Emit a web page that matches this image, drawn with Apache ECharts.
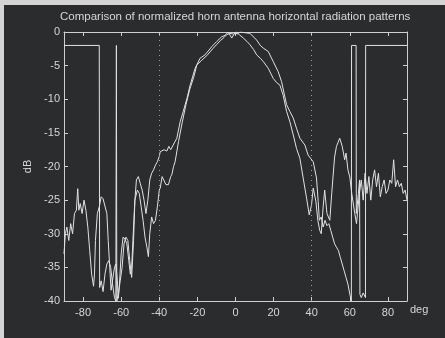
<!DOCTYPE html>
<html>
<head>
<meta charset="utf-8">
<script src="https://cdn.jsdelivr.net/npm/echarts@6/dist/echarts.min.js"></script>
<style>
  body { margin: 0; background: #d4d4d4; width: 445px; height: 338px; overflow: hidden; }
  #charts { position: absolute; left: 4px; top: 5px; width: 441px; height: 333px; background: #2a2c2e; }
</style>
</head>
<body>
<div id="charts"></div>
<script>
/* chart data: [deg, dB] */
let chartTitle = "Comparison of normalized horn antenna horizontal radiation patterns";
let degTicks = [-80, -60, -40, -20, 0, 20, 40, 60, 80];
let degRange = [-90, 90];
let dBRange = [-40, 0];
let guideDeg = [-40, 40]; //dotted guides

let patternA = [
  [-90,-33],[-89.3,-30],[-88.5,-29],[-87.5,-31],[-86.5,-28.5],[-85.5,-30],[-84.5,-27],[-83.5,-26.5],
  [-82.8,-23.3],[-82.2,-26.5],[-81.5,-25.5],[-80.5,-27],[-79.5,-25],[-78.5,-26.5],[-77.5,-29],[-76.5,-32.5],
  [-75.5,-36],[-74.5,-37.8],[-74,-36],[-73.5,-31],[-72.5,-27],[-71.5,-26],[-70.5,-24.5],[-69.5,-24.8],
  [-68.5,-25],[-67.5,-27],[-66.8,-31],[-66,-35],[-65.3,-38.4],[-64.5,-38.5],[-63.5,-35],[-62.8,-34.5],
  [-62,-37],[-61.5,-39.6],[-61,-38],[-60,-33],[-59,-30.5],[-58,-30.8],[-57,-31.5],[-56,-34],[-55.2,-36],
  [-54.5,-35],[-53.5,-29],[-52.8,-25],[-51.5,-23.5],[-50.5,-24],[-49.5,-26],[-48.5,-28],[-47.5,-30.5],
  [-46.5,-32],[-45.7,-33.4],[-45,-30],[-44,-27.5],[-43,-28.5],[-42,-28],[-41,-26],[-40,-23.5],[-39.5,-23.2],
  [-38.5,-21.5],[-37.8,-21.7],[-36.5,-22.7],[-35.2,-22.7],[-34,-21.5],[-33.4,-21.2],[-32.5,-20],[-31.7,-19.3],
  [-29.9,-16.3],[-28,-13.5],[-26,-10.8],[-24,-8.5],[-22,-6.8],[-20.3,-4.9],[-17.7,-4.2],[-15,-3.5],
  [-12,-2.5],[-10,-1.9],[-8,-1.3],[-6,-0.8],[-4.6,-0.4],[-3,-0.2],[-1,-0.3],[0.5,0],[2,-0.4],[4.1,-0.9],
  [6,-1.4],[7.6,-1.9],[9.5,-2.6],[11.1,-3.4],[13,-3.9],[14.6,-4.4],[17.2,-5.4],[19.8,-6.9],[21.5,-7.5],
  [23.3,-7.9],[25,-9.4],[26.8,-11.8],[28.5,-13.3],[30.3,-15.3],[32,-17.3],[33.8,-18.8],[35.5,-21.7],
  [37.3,-24.7],[38.7,-27.2],[39.9,-25.7],[40.8,-23.2],[42.2,-25.2],[43.2,-28],[44.2,-29.5],[45,-30],
  [46,-26],[46.8,-23.5],[48,-27],[49.5,-28],[50.5,-24],[52,-18.6],[53,-17],[54.7,-15.8],[56,-17],
  [57.3,-19],[58,-18],[59,-20.5],[60,-21.6],[61,-24],[62.6,-27],[63.5,-28.5],[64,-27],[65,-24],[66,-22],
  [67,-25],[68,-21],[69,-24],[70,-21.5],[71,-25],[72,-22],[73,-20.5],[74,-23],[75,-21],[76,-24.5],
  [77,-23],[78,-22],[79,-24],[80,-23.5],[81,-22],[82,-22.5],[83,-19],[84,-23],[85,-22],[86,-23],
  [87,-22.5],[88,-24],[89,-23.5],[90,-25]
];

let patternB = [
  [-90,-2],[-71.5,-2],[-71.3,-38],[-70.5,-37],[-69.5,-38.6],[-68.5,-36],[-67.5,-34.5],[-66.5,-34],
  [-65.5,-35],[-64.5,-37.5],[-63.5,-39.5],[-62.8,-40],[-62.5,-2],[-62.3,-40],[-61.5,-39],[-60.5,-37],
  [-59.5,-35],[-58.5,-31.5],[-57.5,-30.5],[-56.5,-31],[-55.5,-34],[-54.5,-36.5],[-53.5,-31],[-52.8,-25],
  [-52,-22],[-51,-21.5],[-50,-22.5],[-49,-23.5],[-48,-25],[-47,-27],[-46,-25],[-45,-22],[-44,-21],
  [-43,-20.5],[-42,-19.8],[-41,-19.3],[-40,-18.5],[-39.5,-17.8],[-38.5,-18],[-37.5,-17.5],[-36,-17.7],
  [-35,-17],[-34,-17.5],[-32.7,-16.8],[-30.8,-15.8],[-29,-13.3],[-27.4,-11.8],[-25.5,-9.9],[-23.8,-7.9],
  [-21.2,-5.4],[-18.6,-3.9],[-16,-3.4],[-12.5,-2.2],[-9.8,-1.4],[-7.2,-0.7],[-5.5,-0.5],[-3.8,0],
  [-2,-0.9],[-0.3,-0.1],[1,-0.3],[2.4,0],[5,-0.1],[7.6,-0.2],[9,-0.6],[11.1,-1.2],[13,-2],[14.6,-2.4],
  [17.2,-2.9],[19.8,-4.4],[22.4,-5.9],[24.2,-7.4],[26.8,-10.8],[28.5,-11.8],[30.3,-12.8],[32,-14.3],
  [33.8,-15.8],[36.4,-16.8],[38.1,-18.3],[40.8,-19.3],[42.5,-21.7],[43.4,-25.2],[44,-28],[45,-27.5],
  [46,-29],[47,-28],[48,-28.8],[49,-28.5],[50,-29.5],[51,-30.5],[52,-31.5],[53,-32],[54,-32.5],
  [55,-33.5],[56,-34.5],[57,-35.5],[58,-36.5],[59,-37.5],[60,-39],[60.8,-40],[60.9,-2],[63.3,-2],
  [63.4,-27],[64.5,-24],[65.1,-22],[65.3,-39],[66,-39.5],[67,-38.8],[68.2,-39.5],[68.3,-2],[90,-2]
];

/* styles */
let textColor = "#d6d6d6";
let boxColor = "#cfcfcf";
let lineColor = "#e2e2e2";
let font = "Liberation Sans";

function boxAxis(pos, isX) {
  //axis used only for the box edge and inner ticks
  let axis = {
    type: "value",
    position: pos,
    min: isX ? degRange[0] : dBRange[0],
    max: isX ? degRange[1] : dBRange[1],
    axisLine: { show: true, onZero: false, lineStyle: { color: boxColor, width: 1 } },
    axisTick: { show: true, inside: true, length: 4, lineStyle: { color: boxColor } },
    splitLine: { show: false },
    axisLabel: { show: false },
  };
  if (isX) {
    axis.axisTick.customValues = degTicks;
  } else {
    axis.interval = 5;
  }
  return axis;
}

function chartRender() {
  let myChart = echarts.init(document.getElementById("charts"));
  let xMain = boxAxis("bottom", true);
  xMain.axisLabel = { show: true, customValues: degTicks, color: textColor, fontFamily: font, fontSize: 11, margin: 6 };
  xMain.name = "deg";
  xMain.nameLocation = "end";
  xMain.nameGap = 3;
  xMain.nameTextStyle = { color: textColor, fontFamily: font, fontSize: 11, verticalAlign: "top", padding: [3, 0, 0, 0] };

  let yMain = boxAxis("left", false);
  yMain.axisLabel = { show: true, color: textColor, fontFamily: font, fontSize: 11, margin: 4 };
  yMain.name = "dB";
  yMain.nameLocation = "middle";
  yMain.nameGap = 30;
  yMain.nameTextStyle = { color: textColor, fontFamily: font, fontSize: 11 };

  let option = {
    animation: false,
    title: {
      text: chartTitle,
      left: 56,
      top: 6,
      padding: 0,
      textStyle: { color: textColor, fontFamily: font, fontSize: 11.5, fontWeight: "normal" },
    },
    grid: { left: 60, right: 38, top: 27, bottom: 37 },
    xAxis: [xMain, boxAxis("top", true)],
    yAxis: [yMain, boxAxis("right", false)],
    series: [
      {
        type: "line",
        data: patternB,
        showSymbol: false,
        lineStyle: { color: lineColor, width: 1 },
        markLine: {
          silent: true,
          symbol: "none",
          label: { show: false },
          lineStyle: { color: "#9a9a9a", type: [1, 4], width: 1 },
          data: guideDeg.map(function (d) { return { xAxis: d }; }),
        },
      },
      {
        type: "line",
        data: patternA,
        showSymbol: false,
        lineStyle: { color: lineColor, width: 1 },
      },
    ],
  };
  myChart.setOption(option);
}

chartRender();
</script>
</body>
</html>
